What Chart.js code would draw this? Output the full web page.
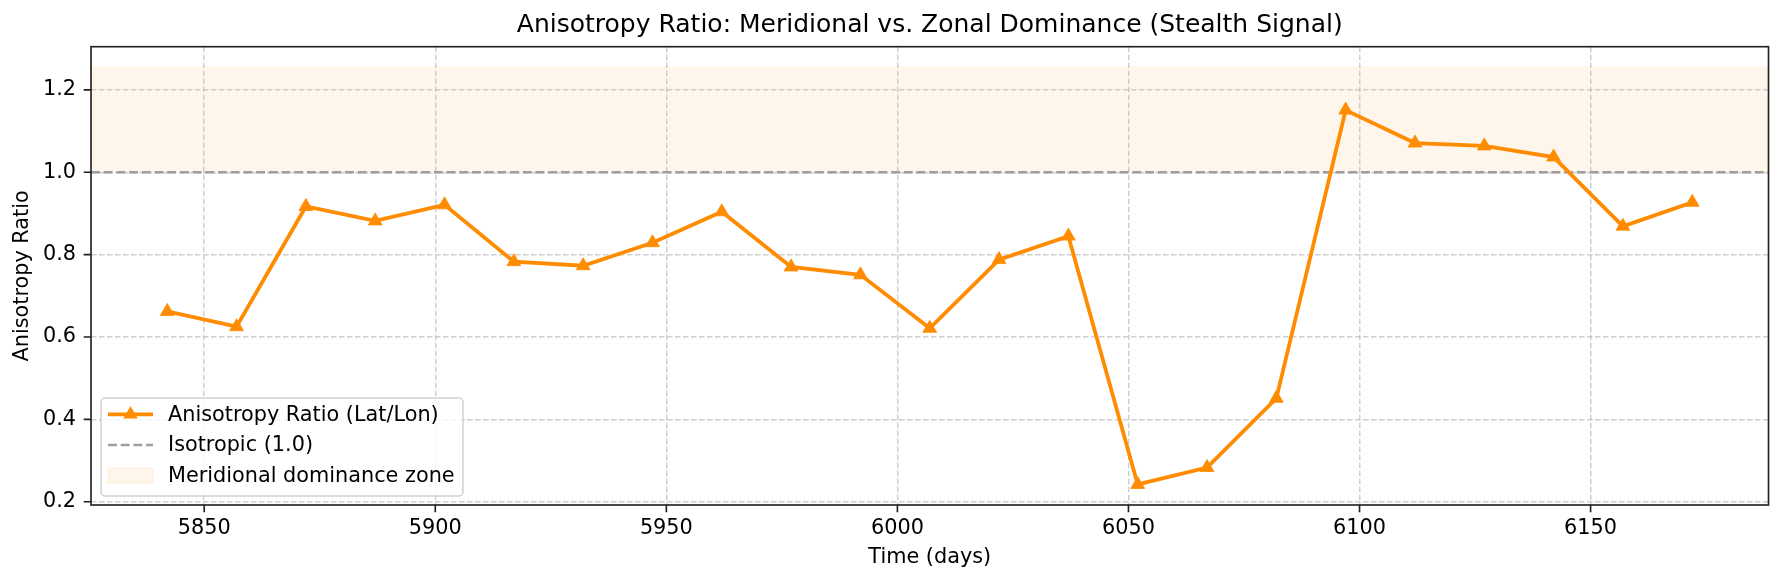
<!DOCTYPE html>
<html><head><meta charset="utf-8">
<script src="https://cdn.jsdelivr.net/npm/chart.js@4.4.0/dist/chart.umd.min.js"></script>
<style>html,body{margin:0;padding:0;background:#fff;} #wrap{width:1783px;height:584px;position:relative;}</style>
</head><body><div id="wrap"><canvas id="c"></canvas></div>
<script>
// ---- data ----
const days = [5842,5857,5872,5887,5902,5917,5932,5947,5962,5977,5992,6007,6022,6037,6052,6067,6082,6097,6112,6127,6142,6157,6172];
const ratio = [0.662,0.625,0.917,0.882,0.921,0.783,0.773,0.829,0.904,0.770,0.751,0.621,0.788,0.845,0.242,0.283,0.451,1.151,1.071,1.064,1.037,0.869,0.927];
const xTicks = [5850,5900,5950,6000,6050,6100,6150];
const yTicks = [0.2,0.4,0.6,0.8,1.0,1.2];
const isoLevel = 1.0;
const zoneTop = 1.258;
const xRange = [5825.5, 6188.5];
const yRange = [0.192, 1.305];
const titleText = 'Anisotropy Ratio: Meridional vs. Zonal Dominance (Stealth Signal)';
const xLabel = 'Time (days)';
const yLabel = 'Anisotropy Ratio';
const legendLabels = ['Anisotropy Ratio (Lat/Lon)', 'Isotropic (1.0)', 'Meridional dominance zone'];

// ---- styles ----
const FONT = "'DejaVu Sans', sans-serif";
const FS = 20.8;
const ORANGE = '#ff8c00';
const ISO_COLOR = '#9e9e9e';
const ZONE_FILL = 'rgba(255,140,0,0.08)';
const ZONE_EDGE = 'rgba(255,140,0,0.10)';
const GRID = 'rgba(176,176,176,0.6)';
const SPINE = '#222222';

const decorPlugin = {
  id: 'decor',
  beforeDraw(chart) {
    const {ctx, chartArea: a, scales: {y}} = chart;
    const t = y.getPixelForValue(zoneTop), b = y.getPixelForValue(isoLevel);
    ctx.save();
    ctx.fillStyle = ZONE_FILL;
    ctx.fillRect(a.left, t, a.right - a.left, b - t);
    ctx.restore();
  },
  beforeDatasetsDraw(chart) {
    const {ctx, chartArea: a, scales: {y}} = chart;
    const py = y.getPixelForValue(isoLevel);
    ctx.save();
    ctx.strokeStyle = ISO_COLOR;
    ctx.lineWidth = 2.4;
    ctx.setLineDash([8.9, 3.8]);
    ctx.beginPath(); ctx.moveTo(a.left, py); ctx.lineTo(a.right, py); ctx.stroke();
    ctx.restore();
  },
  afterDraw(chart) {
    const {ctx, chartArea: a, scales: {x, y}} = chart;
    ctx.save();
    // frame
    ctx.strokeStyle = SPINE; ctx.lineWidth = 1.65; ctx.setLineDash([]);
    ctx.strokeRect(a.left, a.top, a.right - a.left, a.bottom - a.top);
    // tick marks
    ctx.beginPath();
    xTicks.forEach(v => { const px = x.getPixelForValue(v); ctx.moveTo(px, a.bottom); ctx.lineTo(px, a.bottom + 7.3); });
    yTicks.forEach(v => { const py = y.getPixelForValue(v); ctx.moveTo(a.left, py); ctx.lineTo(a.left - 7.3, py); });
    ctx.stroke();

    // legend
    const lx = a.left + 10, ly = a.bottom - 107, lw = 362, lh = 98;
    ctx.fillStyle = 'rgba(255,255,255,0.8)';
    ctx.strokeStyle = 'rgba(204,204,204,0.9)';
    ctx.lineWidth = 1.5;
    ctx.beginPath();
    if (ctx.roundRect) ctx.roundRect(lx, ly, lw, lh, 4); else ctx.rect(lx, ly, lw, lh);
    ctx.fill(); ctx.stroke();
    const hx0 = lx + 7, hx1 = lx + 52, tx = lx + 67;
    const rows = [ly + 16.3, ly + 47, ly + 77.7];
    // row 1
    ctx.strokeStyle = ORANGE; ctx.lineWidth = 3.8;
    ctx.beginPath(); ctx.moveTo(hx0, rows[0]); ctx.lineTo(hx1, rows[0]); ctx.stroke();
    const cx = (hx0 + hx1) / 2, r = 8.3;
    ctx.fillStyle = ORANGE;
    ctx.beginPath();
    ctx.moveTo(cx, rows[0] - r);
    ctx.lineTo(cx + r * Math.sin(2*Math.PI/3), rows[0] - r * Math.cos(2*Math.PI/3));
    ctx.lineTo(cx + r * Math.sin(4*Math.PI/3), rows[0] - r * Math.cos(4*Math.PI/3));
    ctx.closePath(); ctx.fill();
    // row 2
    ctx.strokeStyle = ISO_COLOR; ctx.lineWidth = 2.4; ctx.setLineDash([8.9, 3.8]);
    ctx.beginPath(); ctx.moveTo(hx0, rows[1]); ctx.lineTo(hx1, rows[1]); ctx.stroke();
    ctx.setLineDash([]);
    // row 3
    ctx.fillStyle = ZONE_FILL; ctx.strokeStyle = ZONE_EDGE; ctx.lineWidth = 1.2;
    ctx.fillRect(hx0, rows[2] - 7.5, hx1 - hx0, 15);
    ctx.strokeRect(hx0, rows[2] - 7.5, hx1 - hx0, 15);
    // texts
    ctx.fillStyle = '#000';
    ctx.font = FS + 'px ' + FONT;
    ctx.textBaseline = 'middle'; ctx.textAlign = 'left';
    legendLabels.forEach((t, i) => ctx.fillText(t, tx, rows[i] + 1));
    ctx.restore();
  }
};

const ctx = document.getElementById('c');
new Chart(ctx, {
  type: 'line',
  data: {
    datasets: [{
      label: legendLabels[0],
      data: days.map((d, i) => ({x: d, y: ratio[i]})),
      borderColor: ORANGE,
      backgroundColor: ORANGE,
      borderWidth: 3.8,
      pointStyle: 'triangle',
      pointRadius: 8,
      pointBorderWidth: 0.8,
      pointBackgroundColor: ORANGE,
      pointBorderColor: ORANGE,
      tension: 0,
      fill: false
    }]
  },
  options: {
    responsive: true,
    maintainAspectRatio: false,
    animation: false,
    devicePixelRatio: 1,
    layout: {padding: {left: 0, right: 14.5, top: 0, bottom: 0}},
    plugins: {
      legend: {display: false},
      tooltip: {enabled: false},
      title: {
        display: true,
        fullSize: false,
        text: titleText,
        color: '#000',
        font: {family: FONT, size: 25, weight: 'normal', lineHeight: 1.2},
        padding: {top: 10, bottom: 6.7}
      }
    },
    scales: {
      x: {
        type: 'linear',
        min: xRange[0], max: xRange[1],
        afterBuildTicks: s => { s.ticks = xTicks.map(v => ({value: v})); },
        afterFit: s => { s.height = 79; },
        ticks: {
          color: '#000', padding: 11.5,
          font: {family: FONT, size: FS, lineHeight: 1.2},
          callback: v => String(v),
          maxRotation: 0, autoSkip: false
        },
        grid: {color: GRID, lineWidth: 1.5, drawTicks: false},
        border: {display: false, dash: [5.5, 2.5]},
        title: {display: true, text: xLabel, color: '#000',
          font: {family: FONT, size: FS, lineHeight: 1.2}, padding: {top: 0, bottom: 13.5}}
      },
      y: {
        type: 'linear',
        min: yRange[0], max: yRange[1],
        afterBuildTicks: s => { s.ticks = yTicks.map(v => ({value: v})); },
        afterFit: s => { s.width = 91; },
        ticks: {
          color: '#000', padding: 15,
          font: {family: FONT, size: FS, lineHeight: 1.2},
          callback: v => Number(v).toFixed(1)
        },
        grid: {color: GRID, lineWidth: 1.5, drawTicks: false},
        border: {display: false, dash: [5.5, 2.5]},
        title: {display: true, text: yLabel, color: '#000',
          font: {family: FONT, size: FS, lineHeight: 1.2}, padding: {top: 10, bottom: 0}}
      }
    }
  },
  plugins: [decorPlugin]
});
</script>
</body></html>
